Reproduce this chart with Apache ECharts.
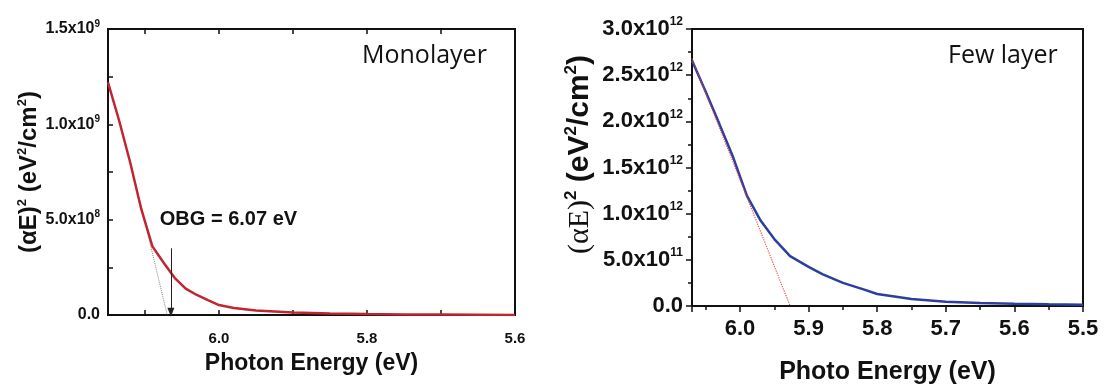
<!DOCTYPE html>
<html>
<head>
<meta charset="utf-8">
<script src="https://cdn.jsdelivr.net/npm/echarts@6/dist/echarts.min.js"></script>
<style>
  html, body { margin: 0; padding: 0; background: #fff; }
  #main { width: 1104px; height: 390px; }
</style>
</head>
<body>
<div id="main"></div>
<script>
// monolayer (left panel), values in units of 1e8 eV^2/cm^2
var monoEnergy = [6.15, 6.135, 6.12, 6.105, 6.09, 6.075, 6.06, 6.045, 6.03, 6.015, 6.0, 5.98, 5.95, 5.9, 5.85, 5.8, 5.75, 5.7, 5.65, 5.6];
var monoAbs = [12.2, 10.2, 8.0, 5.55, 3.6, 2.75, 1.95, 1.38, 1.05, 0.78, 0.52, 0.37, 0.24, 0.13, 0.08, 0.05, 0.03, 0.02, 0.01, 0.0];
var monoFitEnergy = [6.107, 6.07];
var monoFitAbs = [6.0, 0.0];
var monoArrowEnergy = 6.065;
var monoArrowAbs = [3.5, 0.15];
var monoLabel = 'OBG = 6.07 eV';

// few layer (right panel), values in units of 1e12 eV^2/cm^2
var fewEnergy = [6.07, 6.05, 6.03, 6.01, 5.99, 5.97, 5.95, 5.927, 5.9, 5.88, 5.85, 5.82, 5.8, 5.75, 5.7, 5.65, 5.6, 5.55, 5.5];
var fewAbs = [2.66, 2.32, 1.97, 1.61, 1.195, 0.925, 0.725, 0.54, 0.424, 0.345, 0.25, 0.18, 0.13, 0.075, 0.046, 0.032, 0.024, 0.018, 0.014];
var fewFitEnergy = [6.07, 5.927];
var fewFitAbs = [2.68, 0.0];

var monoTickLabels = ['6.0', '5.8', '5.6'];

var SANS = '"Liberation Sans", Arial, sans-serif';
var TAG = '"Open Sans", "Noto Sans", sans-serif';

function pairs(xs, ys, scale) {
  return xs.map(function (x, i) { return [x, ys[i] * scale]; });
}

// "1.5x10^9" style labels with a real superscript
function sciLabel(v) {
  if (v === 0) return '{b|0.0}';
  var e = Math.floor(Math.log10(v) + 1e-9);
  var m = v / Math.pow(10, e);
  return '{b|' + m.toFixed(1) + 'x10}{s|' + e + '}';
}

var chart = echarts.init(document.getElementById('main'));

var option = {
  backgroundColor: '#fff',
  animation: false,
  grid: [
    { left: 108, top: 29, width: 407, height: 286, show: true, borderColor: '#111', borderWidth: 2 },
    { left: 692, top: 29, width: 391, height: 284, show: true, borderColor: '#111', borderWidth: 2 }
  ],
  graphic: [
    { type: 'text', left: 362, top: 43, style: { text: 'Monolayer', font: '25px ' + TAG, fill: '#111' } },
    { type: 'text', left: 948, top: 43, style: { text: 'Few layer', font: '25px ' + TAG, fill: '#111' } }
  ],
  xAxis: [
    {
      gridIndex: 0, type: 'value', min: 5.6, max: 6.15, interval: 0.1, inverse: true,
      axisLine: { lineStyle: { color: '#111', width: 2 } },
      axisTick: { inside: true, length: 5, lineStyle: { color: '#111', width: 1.5 } },
      splitLine: { show: false },
      axisLabel: {
        showMaxLabel: false, margin: 16, color: '#111', fontWeight: 'bold', fontSize: 15, fontFamily: SANS,
        formatter: function (v) {
          var t = v.toFixed(1);
          return monoTickLabels.indexOf(t) >= 0 ? t : '';
        }
      },
      name: 'Photon Energy (eV)', nameLocation: 'middle', nameGap: 37,
      nameTextStyle: { color: '#111', fontWeight: 'bold', fontSize: 23, fontFamily: SANS }
    },
    {
      gridIndex: 0, type: 'value', min: 5.6, max: 6.15, interval: 0.1, inverse: true, position: 'top',
      axisLine: { lineStyle: { color: '#111', width: 2 } },
      axisTick: { inside: true, length: 5, lineStyle: { color: '#111', width: 1.5 } },
      splitLine: { show: false },
      axisLabel: { show: false }
    },
    {
      gridIndex: 1, type: 'value', min: 5.5, max: 6.07, interval: 0.1, inverse: true,
      axisLine: { lineStyle: { color: '#111', width: 2 } },
      axisTick: { length: 6, lineStyle: { color: '#111', width: 1.5 } },
      minorTick: { show: true, splitNumber: 2, length: 4, lineStyle: { color: '#111', width: 1.5 } },
      splitLine: { show: false },
      axisLabel: {
        showMaxLabel: false, margin: 12, color: '#111', fontWeight: 'bold', fontSize: 22, fontFamily: SANS,
        formatter: function (v) { return v.toFixed(1); }
      },
      name: 'Photo Energy (eV)', nameLocation: 'middle', nameGap: 54,
      nameTextStyle: { color: '#111', fontWeight: 'bold', fontSize: 25, fontFamily: SANS }
    }
  ],
  yAxis: [
    {
      gridIndex: 0, type: 'value', min: 0, max: 1.5e9, interval: 5e8,
      axisLine: { lineStyle: { color: '#111', width: 2 } },
      axisTick: { inside: true, length: 5, lineStyle: { color: '#111', width: 1.5 } },
      minorTick: { show: true, splitNumber: 2, length: 5, lineStyle: { color: '#111', width: 1.5 } },
      splitLine: { show: false },
      axisLabel: {
        margin: 8, formatter: sciLabel,
        rich: {
          b: { color: '#111', fontWeight: 'bold', fontSize: 16, fontFamily: SANS, lineHeight: 20 },
          s: { color: '#111', fontWeight: 'bold', fontSize: 10, fontFamily: SANS, verticalAlign: 'top', lineHeight: 11 }
        }
      },
      name: '{b|(αE)}{s|2}{b| (eV}{s|2}{b|/cm}{s|2}{b|)}', nameLocation: 'middle', nameGap: 60,
      nameTextStyle: {
        rich: {
          b: { color: '#111', fontWeight: 'bold', fontSize: 24, fontFamily: SANS, lineHeight: 28 },
          s: { color: '#111', fontWeight: 'bold', fontSize: 13, fontFamily: SANS, verticalAlign: 'top', lineHeight: 14 }
        }
      }
    },
    {
      gridIndex: 1, type: 'value', min: 0, max: 3e12, interval: 5e11,
      axisLine: { lineStyle: { color: '#111', width: 2 } },
      axisTick: { length: 6, lineStyle: { color: '#111', width: 1.5 } },
      minorTick: { show: true, splitNumber: 2, length: 4, lineStyle: { color: '#111', width: 1.5 } },
      splitLine: { show: false },
      axisLabel: {
        margin: 9, formatter: sciLabel,
        rich: {
          b: { color: '#111', fontWeight: 'bold', fontSize: 22, fontFamily: SANS, lineHeight: 26 },
          s: { color: '#111', fontWeight: 'bold', fontSize: 12, fontFamily: SANS, verticalAlign: 'top', lineHeight: 13 }
        }
      },
      name: '{t|(αE)}{s|2}{b| (eV}{s|2}{b|/cm}{s|2}{b|)}', nameLocation: 'middle', nameGap: 95,
      nameTextStyle: {
        padding: [0, 0, 0, 26],
        rich: {
          t: { color: '#111', fontSize: 30, fontFamily: '"Liberation Serif", serif', lineHeight: 34 },
          b: { color: '#111', fontWeight: 'bold', fontSize: 30, fontFamily: SANS, lineHeight: 34 },
          s: { color: '#111', fontWeight: 'bold', fontSize: 17, fontFamily: SANS, verticalAlign: 'top', lineHeight: 17 }
        }
      }
    }
  ],
  series: [
    {
      type: 'line', xAxisIndex: 0, yAxisIndex: 0, symbol: 'none', z: 2,
      data: pairs(monoFitEnergy, monoFitAbs, 1e8),
      lineStyle: { color: '#888', width: 1, type: 'dotted' },
      markLine: {
        silent: true, symbol: ['none', 'triangle'], symbolSize: [7, 9],
        lineStyle: { color: '#222', width: 1, type: 'solid' },
        label: { show: false },
        data: [[{ coord: [monoArrowEnergy, monoArrowAbs[0] * 1e8] }, { coord: [monoArrowEnergy, monoArrowAbs[1] * 1e8] }]]
      },
      markPoint: {
        symbol: 'circle', symbolSize: 0,
        label: {
          show: true, position: 'right', distance: 0, formatter: monoLabel,
          color: '#111', fontWeight: 'bold', fontSize: 20, fontFamily: SANS
        },
        data: [{ coord: [6.08, 5.0e8] }]
      }
    },
    {
      type: 'line', xAxisIndex: 0, yAxisIndex: 0, symbol: 'none', z: 3,
      data: pairs(monoEnergy, monoAbs, 1e8),
      lineStyle: { color: '#c0262f', width: 2.5 }
    },
    {
      type: 'line', xAxisIndex: 2, yAxisIndex: 1, symbol: 'none', z: 3,
      data: pairs(fewEnergy, fewAbs, 1e12),
      lineStyle: { color: '#2d3f9e', width: 2.5 }
    },
    {
      type: 'line', xAxisIndex: 2, yAxisIndex: 1, symbol: 'none', z: 4,
      data: pairs(fewFitEnergy, fewFitAbs, 1e12),
      lineStyle: { color: '#e8403a', width: 1.2, type: 'dotted', opacity: 0.9 }
    }
  ]
};

chart.setOption(option);
</script>
</body>
</html>
